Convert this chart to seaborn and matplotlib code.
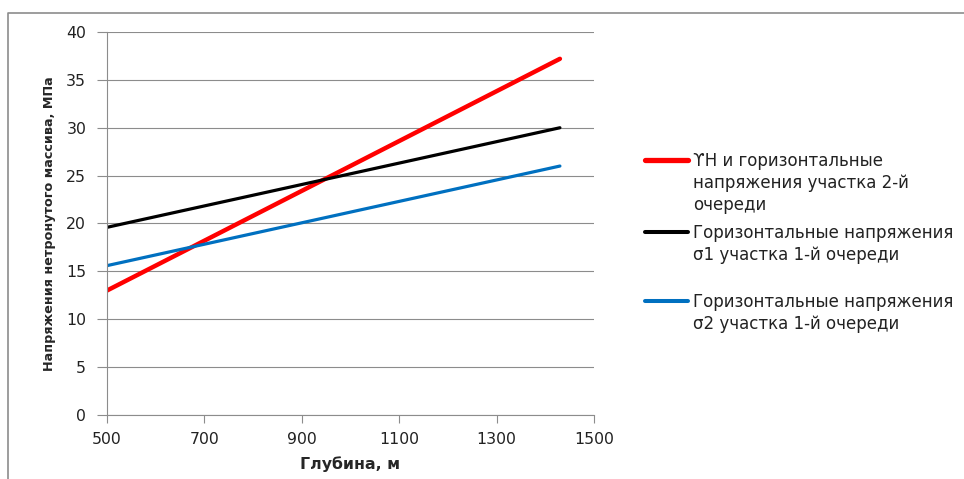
import numpy as np
import pandas as pd
import seaborn as sns
import matplotlib.pyplot as plt
from matplotlib.lines import Line2D

# Data
depth = [500, 1430]
gamma_h = [13.0, 37.2]     # red: γH and horizontal stress, stage 2
sigma1 = [19.6, 30.0]      # black: σ1, stage 1
sigma2 = [15.6, 26.0]      # blue: σ2, stage 1

labels = [
    "ϒH и горизонтальные\nнапряжения участка 2-й\nочереди",
    "Горизонтальные напряжения\nσ1 участка 1-й очереди",
    "Горизонтальные напряжения\nσ2 участка 1-й очереди",
]
colors = ["#FF0000", "#000000", "#0070C0"]
widths = [3.2, 2.3, 2.3]

x_ticks = [500, 700, 900, 1100, 1300, 1500]
y_ticks = [0, 5, 10, 15, 20, 25, 30, 35, 40]

df = pd.DataFrame({
    "depth": depth * 3,
    "stress": gamma_h + sigma1 + sigma2,
    "series": [labels[0]] * 2 + [labels[1]] * 2 + [labels[2]] * 2,
})

sns.set_style("white")
plt.rcParams['font.family'] = ['DejaVu Sans']

W, H = 964, 479
fig = plt.figure(figsize=(W / 100, H / 100), dpi=100)
ax = fig.add_axes([107 / W, 1 - 415 / H, (594 - 107) / W, (415 - 32) / H])

sns.lineplot(data=df, x="depth", y="stress", hue="series", palette=colors,
             hue_order=labels, ax=ax, legend=False)
for line, lw in zip(ax.get_lines(), widths):
    line.set_linewidth(lw)
    line.set_solid_capstyle("round")

grid_col = "#8C8C8C"
ax.set_xlim(500, 1500)
ax.set_ylim(0, 40)
ax.set_xticks(x_ticks)
ax.set_yticks(y_ticks)
ax.yaxis.grid(True, color=grid_col, linewidth=0.8)
ax.xaxis.grid(False)
ax.set_axisbelow(True)
for side in ["top", "right"]:
    ax.spines[side].set_visible(False)
for side in ["left", "bottom"]:
    ax.spines[side].set_color(grid_col)
    ax.spines[side].set_linewidth(0.8)
ax.tick_params(axis="both", which="major", bottom=True, left=True,
               direction="out", width=0.8, color=grid_col, labelsize=11.3,
               labelcolor="#222222")
ax.tick_params(axis="x", length=6, pad=6)
ax.tick_params(axis="y", length=7, pad=8)

ax.set_xlabel("Глубина, м", fontsize=11.3, fontweight="bold", labelpad=7)
ax.set_ylabel("Напряжения нетронутого массива, МПа", fontsize=9.2,
              fontweight="bold", labelpad=7)

# Legend drawn by hand so that the key line sits on the first text row
legend_y = [160, 232, 301]
for lab, col, lw, ly in zip(labels, colors, widths, legend_y):
    fy = 1 - ly / H
    fig.add_artist(Line2D([645 / W, 688 / W], [fy, fy], transform=fig.transFigure,
                          color=col, linewidth=lw + 0.6, solid_capstyle="round"))
    fig.text(693 / W, fy + 8 / H, lab, fontsize=12, va="top", ha="left",
             color="#222222", linespacing=1.3)

# Chart area border (left and top edges only visible)
fig.add_artist(Line2D([8 / W, 8 / W, 1], [0, 1 - 13 / H, 1 - 13 / H],
                      transform=fig.transFigure, color="#8C8C8C", linewidth=1.2))

fig.savefig("out.png", dpi=100)
